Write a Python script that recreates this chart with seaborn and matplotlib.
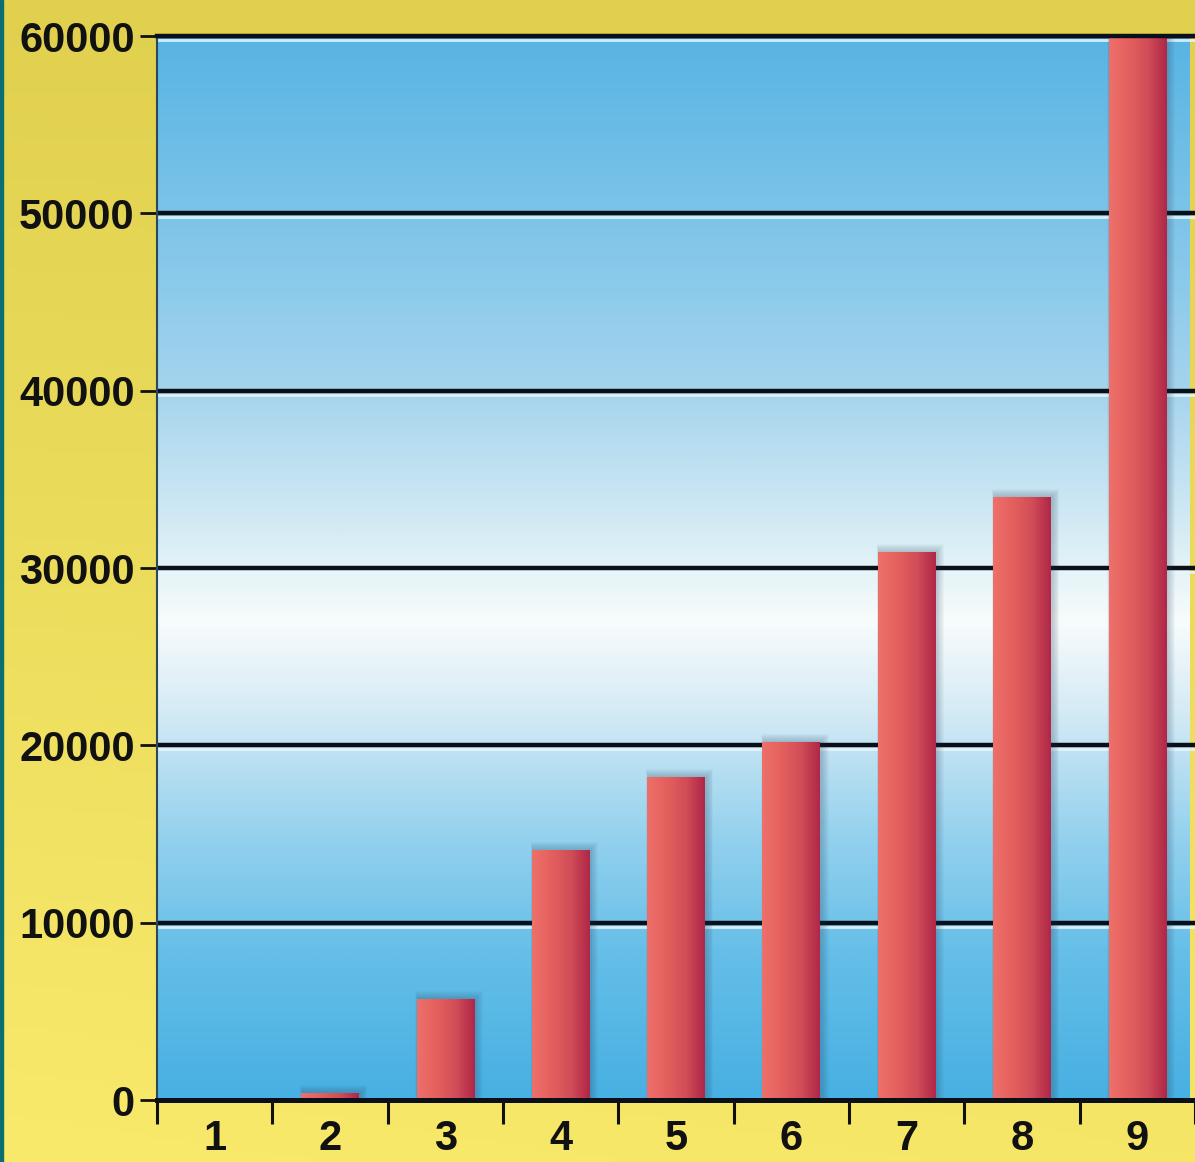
import numpy as np
import pandas as pd
import matplotlib
matplotlib.use("Agg")
import matplotlib.pyplot as plt
from matplotlib.patches import Rectangle
from matplotlib.colors import LinearSegmentedColormap
import seaborn as sns

# --- data -------------------------------------------------------------
categories = ["1", "2", "3", "4", "5", "6", "7", "8", "9"]
values = [0, 400, 5700, 14100, 18200, 20200, 30900, 34000, 60000]
y_ticks = [0, 10000, 20000, 30000, 40000, 50000, 60000]

df = pd.DataFrame({"cat": categories, "val": values})

sns.set_theme(style="white")
plt.rcParams["font.family"] = ["Liberation Sans", "DejaVu Sans"]

W, H = 1195, 1162
fig = plt.figure(figsize=(W / 100, H / 100), dpi=100)

# yellow page background
bg = fig.add_axes([0, 0, 1, 1], zorder=-10)
gy = np.linspace(0, 1, 200)[:, None]
gx = np.linspace(0, 1, 200)[None, :]
top_c = np.array([224, 208, 78]) / 255
bot_c = np.array([249, 234, 108]) / 255
t = gy * 0.85 + (1 - gx) * 0.15 * gy
img = top_c[None, None, :] * (1 - t[..., None]) + bot_c[None, None, :] * t[..., None]
bg.imshow(img, aspect="auto", extent=[0, 1, 1, 0], origin="upper")
bg.set_xlim(0, 1)
bg.set_ylim(1, 0)
bg.axis("off")
fig.patches.append(Rectangle((0, 0), 3 / W, 1, transform=fig.transFigure,
                             color="#0B6F70", zorder=5))

# plot area
left, right = 157 / W, 1.0
bottom, top = 1 - 1100 / H, 1 - 36 / H
ax = fig.add_axes([left, bottom, right - left, top - bottom])
ax.patch.set_alpha(0)

sns.barplot(data=df, x="cat", y="val", color="#E05A5C", width=0.5,
            ax=ax, zorder=4, saturation=1, linewidth=0)

x_lo, x_hi = -0.5, -0.5 + (W - 157) / 116.0
ax.set_xlim(x_lo, x_hi)
ax.set_ylim(0, 60000)

# sky gradient behind the bars
stops = [(0.0, (72, 176, 226)), (8000 / 60000, (100, 190, 232)),
         (15000 / 60000, (150, 210, 238)), (22000 / 60000, (214, 235, 245)),
         (27000 / 60000, (248, 252, 252)), (32000 / 60000, (214, 236, 245)),
         (40000 / 60000, (165, 212, 237)), (50000 / 60000, (124, 196, 233)),
         (1.0, (88, 180, 227))]
sky = LinearSegmentedColormap.from_list(
    "sky", [(p, tuple(np.array(c) / 255)) for p, c in stops])
grad = np.linspace(0, 1, 400)[:, None]
ax.imshow(grad, cmap=sky, aspect="auto", origin="lower",
          extent=[x_lo, x_hi, 0, 60000], zorder=0)

# embossed gridlines
for yv in y_ticks[1:]:
    ax.axhline(yv - 230, color="#E8F6FB", lw=2.0, alpha=0.85, zorder=1)
    ax.axhline(yv, color="#0A0F18", lw=3.2, zorder=2)

# soft bar shadows and horizontal shading
bar_cmap = LinearSegmentedColormap.from_list(
    "bar", ["#EE706A", "#E4605E", "#D24E58", "#B02848"])
hgrad = np.linspace(0, 1, 64)[None, :]
for p in list(ax.patches):
    x0, w, h = p.get_x(), p.get_width(), p.get_height()
    if h <= 0:
        continue
    for k in range(1, 9):
        dx = 0.008 * k
        dy = 55 * k
        ax.add_patch(Rectangle((x0 + 0.01 - dx * 0.3, 0), w + dx * 1.3,
                               min(h + dy, 60000),
                               color="#2A4560", alpha=0.035, lw=0, zorder=3))
    im = ax.imshow(hgrad, cmap=bar_cmap, aspect="auto",
                   extent=[x0, x0 + w, 0, h], zorder=5)
    im.set_clip_path(p)

# axes styling
ax.spines["right"].set_visible(False)
ax.spines["top"].set_color("#0A0F18")
ax.spines["top"].set_linewidth(3.2)
ax.spines["top"].set_zorder(6)
ax.spines["bottom"].set_color("#0A0F18")
ax.spines["bottom"].set_linewidth(3.6)
ax.spines["bottom"].set_zorder(6)
ax.spines["left"].set_color("#2A4A5A")
ax.spines["left"].set_linewidth(1.5)

ax.set_yticks(y_ticks)
ax.set_yticklabels([str(v) for v in y_ticks])
ax.tick_params(axis="y", which="major", length=12, width=2, color="#111111",
               pad=4, labelsize=30, labelcolor="#111111", left=True)
for lbl in ax.get_yticklabels():
    lbl.set_fontweight("bold")

ax.set_xticks(range(len(categories)))
ax.set_xticklabels(categories)
ax.tick_params(axis="x", which="major", length=0, pad=14, labelsize=30,
               labelcolor="#111111")
for lbl in ax.get_xticklabels():
    lbl.set_fontweight("bold")
ax.set_xticks([i + 0.5 for i in range(-1, len(categories))], minor=True)
ax.tick_params(axis="x", which="minor", length=17, width=2.2,
               color="#111111", bottom=True)

ax.set_xlabel("")
ax.set_ylabel("")
ax.grid(False)

fig.savefig("out.png", dpi=100)
